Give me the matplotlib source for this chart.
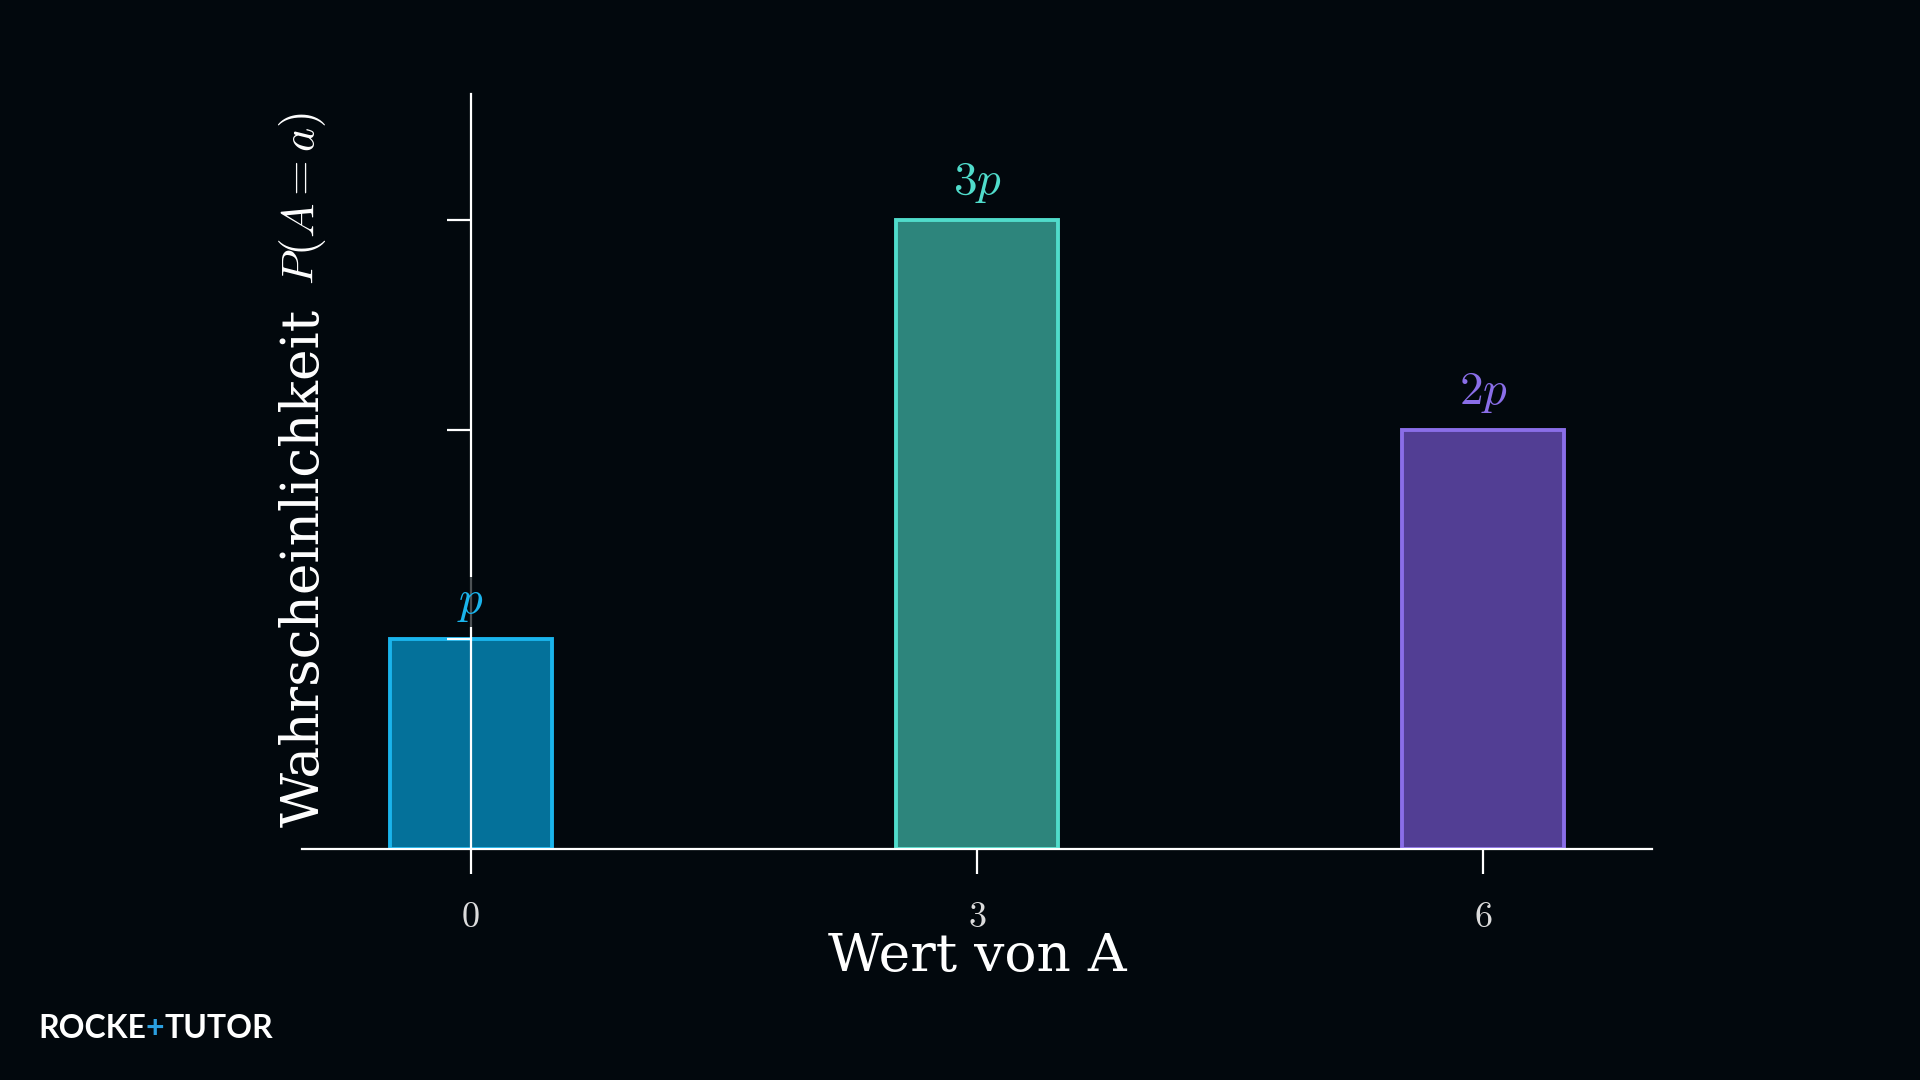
import matplotlib
matplotlib.use('Agg')
import matplotlib.pyplot as plt
from matplotlib.offsetbox import TextArea, HPacker, AnchoredOffsetbox

# Data
werte = [0, 3, 6]
wahrscheinlichkeiten = [1, 3, 2]
bar_labels = ['$p$', '$3p$', '$2p$']
y_ticks = [1, 2, 3]

BG = '#02080d'
FILL = ['#04719a', '#2d857c', '#523e94']
EDGE = ['#1ab4ec', '#50dccb', '#8a6ee8']

plt.rcParams['mathtext.fontset'] = 'cm'
plt.rcParams['font.family'] = ['DejaVu Serif']


def main():
    fig = plt.figure(figsize=(19.2, 10.8), dpi=100, facecolor=BG)
    ax = fig.add_axes([302 / 1920, 1 - 849 / 1080, 1350 / 1920, 755 / 1080])
    ax.set_facecolor(BG)

    ax.bar(werte, wahrscheinlichkeiten, width=0.96, color=FILL,
           edgecolor=EDGE, linewidth=2.8, zorder=1)

    for x, h, lab, c in zip(werte, wahrscheinlichkeiten, bar_labels, EDGE):
        ax.annotate(lab, (x, h), xytext=(0, 27), textcoords='offset points',
                    ha='center', va='center', fontsize=34, color=c, zorder=5,
                    bbox=dict(boxstyle='square,pad=0.05', facecolor=BG,
                              edgecolor='none', alpha=0.7))

    ax.set_xlim(-1, 7)
    ax.set_ylim(0, 3.6)

    # axes through the origin
    for side in ['top', 'right']:
        ax.spines[side].set_visible(False)
    ax.spines['left'].set_position(('data', 0))
    ax.spines['bottom'].set_position(('data', 0))
    for side in ['left', 'bottom']:
        ax.spines[side].set_color('white')
        ax.spines[side].set_linewidth(1.6)
        ax.spines[side].set_zorder(3)

    ax.set_xticks(werte)
    ax.set_xticklabels(['$%d$' % w for w in werte])
    ax.set_yticks(y_ticks)
    ax.set_yticklabels([])
    ax.tick_params(axis='x', direction='out', length=18, width=1.6,
                   colors='white', labelcolor='#dcdcdc', labelsize=26, pad=19)
    ax.tick_params(axis='y', direction='out', length=17, width=1.6,
                   colors='white')

    fig.text(977 / 1920, 1 - 957 / 1080, 'Wert von A', color='white',
             fontsize=38.5, ha='center', va='center')
    fig.text(304 / 1920, 1 - 568 / 1080, 'Wahrscheinlichkeit',
             color='white', fontsize=38.5, ha='center', va='center', rotation=90)
    fig.text(303 / 1920, 1 - 199 / 1080, '$P(A=a)$',
             color='white', fontsize=33, ha='center', va='center', rotation=90)

    # logo
    parts = [('ROCKE', 'white'), ('+', '#2a9fe0'), ('TUTOR', 'white')]
    boxes = [TextArea(s, textprops=dict(color=c, fontsize=23, fontweight='bold',
                                        family='Lato')) for s, c in parts]
    pack = HPacker(children=boxes, align='baseline', pad=0, sep=0)
    logo = AnchoredOffsetbox(loc='lower left', child=pack, frameon=False,
                             bbox_to_anchor=(38 / 1920, 1 - 1043 / 1080),
                             bbox_transform=fig.transFigure, borderpad=0, pad=0)
    fig.add_artist(logo)

    fig.savefig('out.png', dpi=100, facecolor=BG)


if __name__ == '__main__':
    main()
